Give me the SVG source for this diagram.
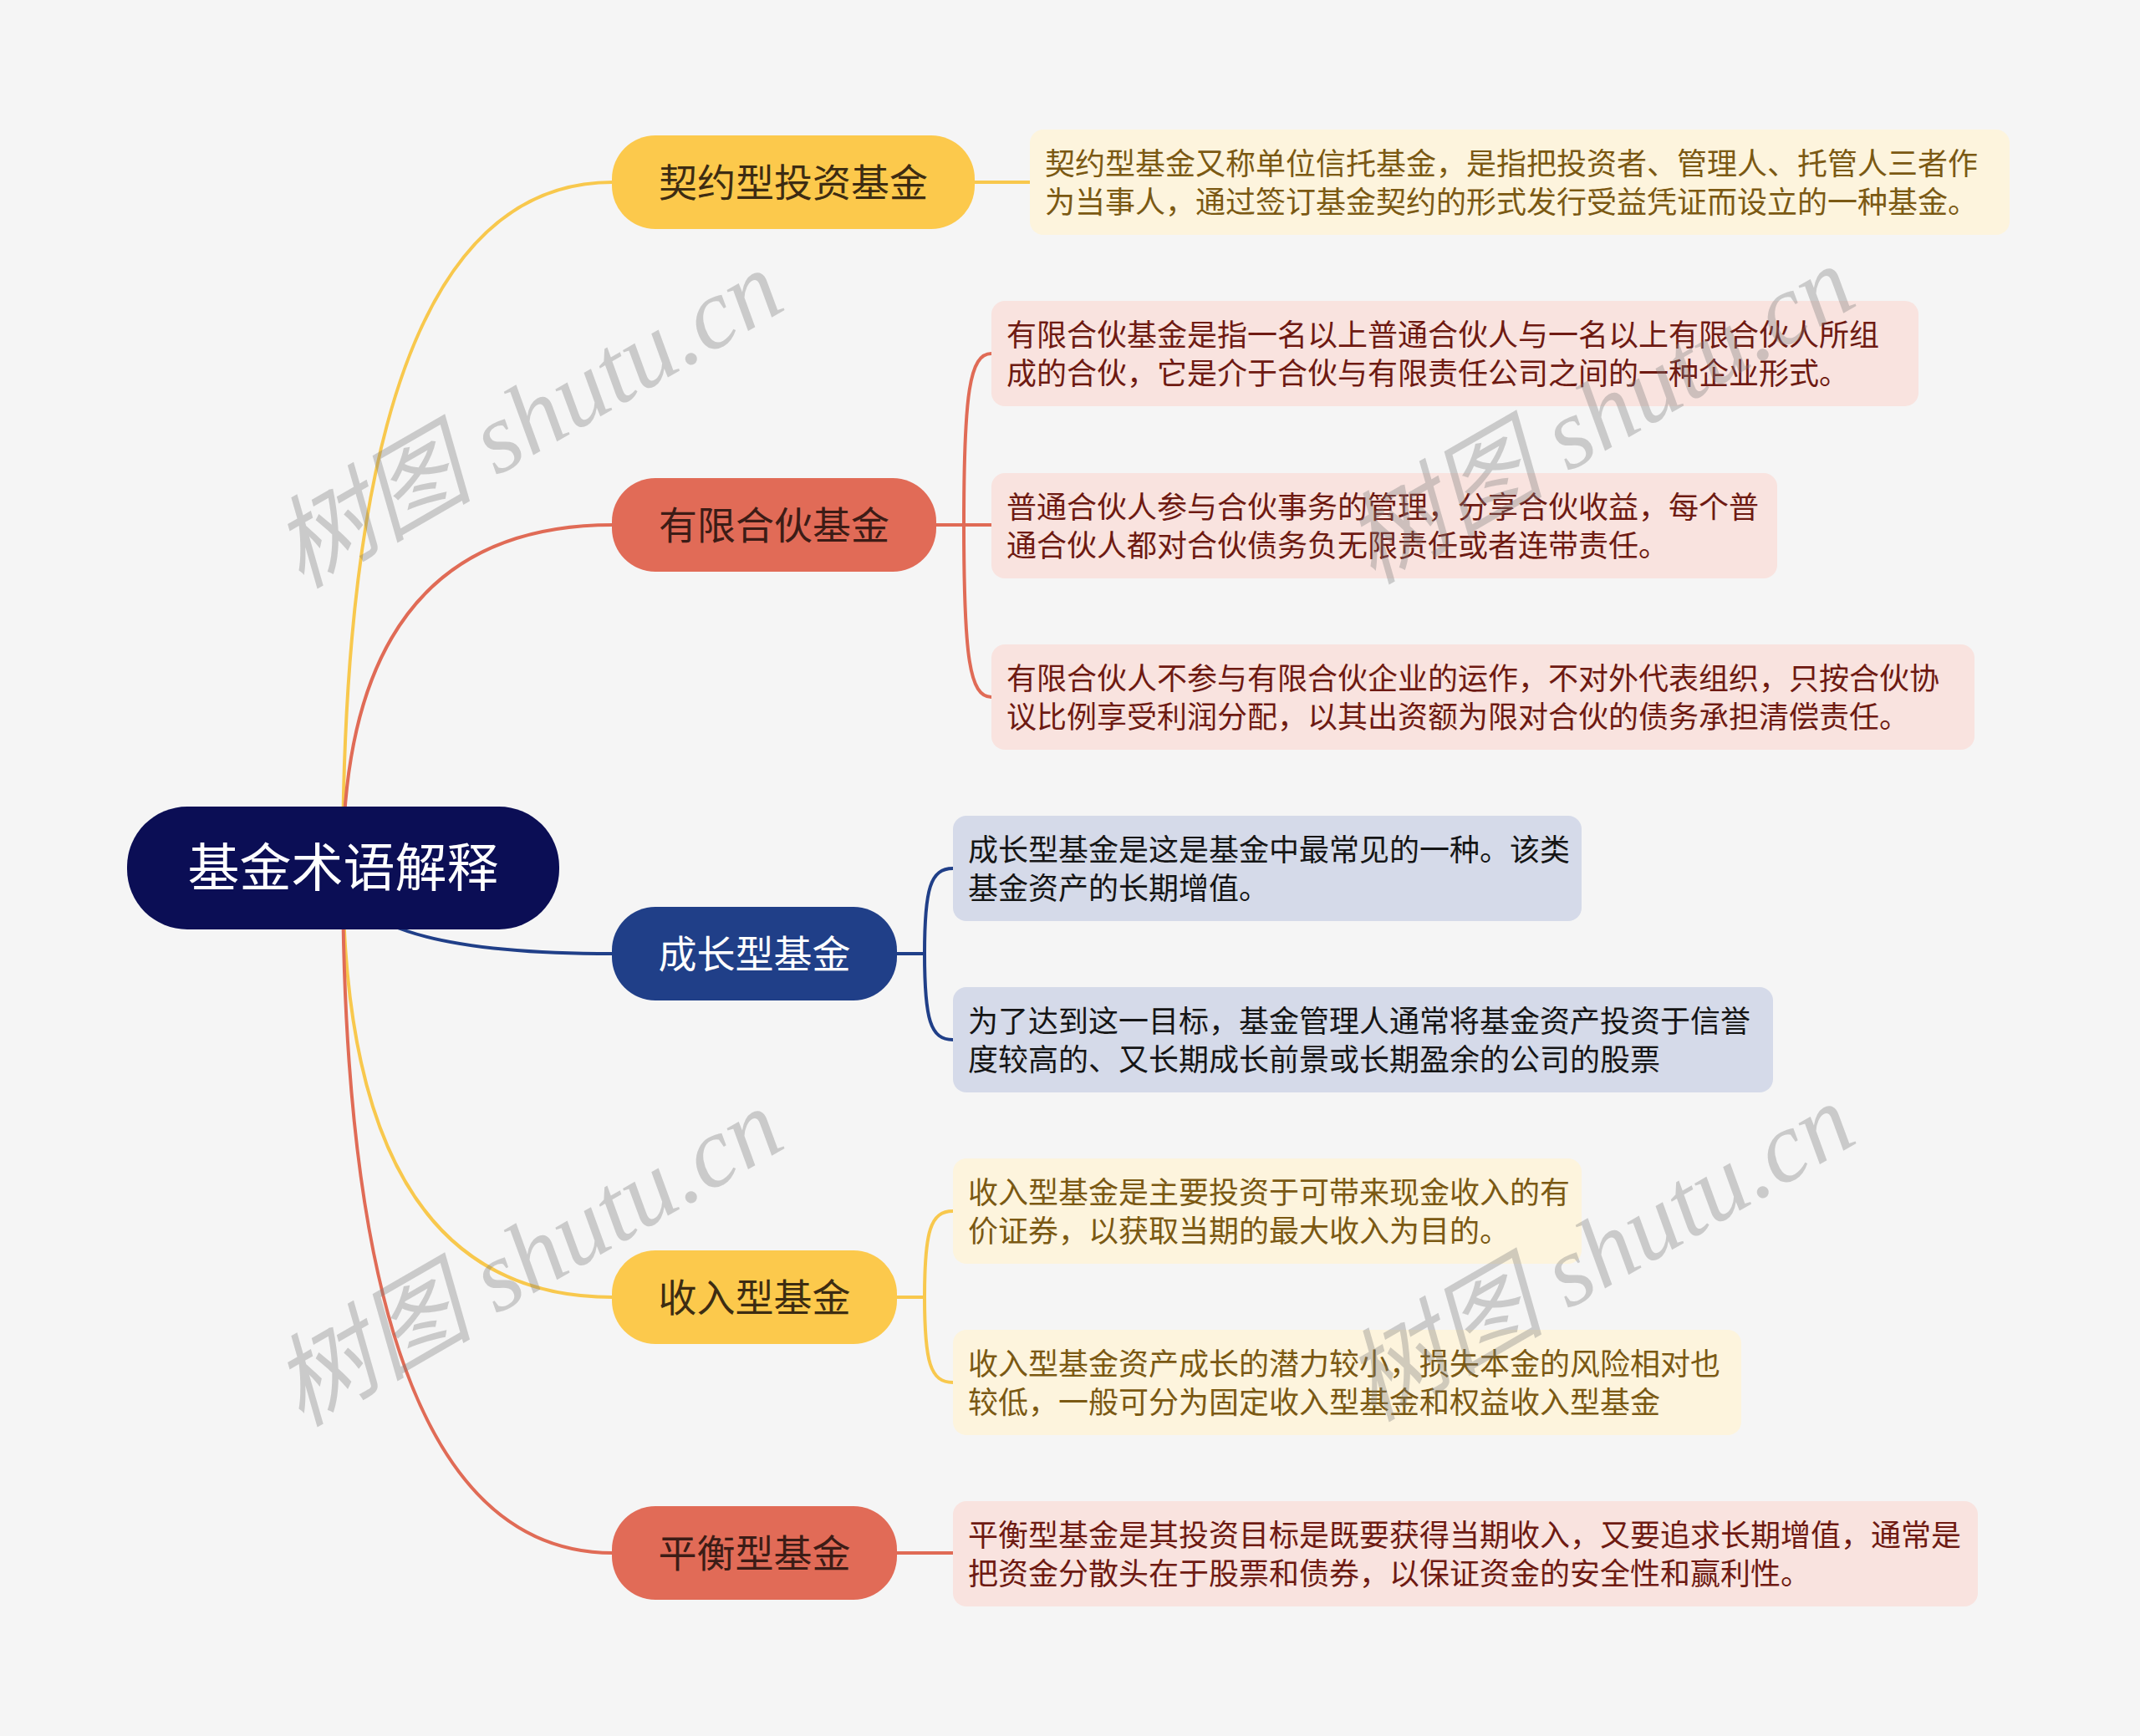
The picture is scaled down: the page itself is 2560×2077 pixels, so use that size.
<svg xmlns="http://www.w3.org/2000/svg" width="2560" height="2077" viewBox="0 0 2560 2077">
<defs>
<style>
.t{font-family:"Noto Sans CJK SC","Noto Sans",sans-serif;}
.root{fill:#0b0e55;}
.rootT{fill:#ffffff;font-size:62px;}
.nT{font-size:46px;}
.dT{font-size:36px;}
.ny{fill:#fcc94c;}
.nr{fill:#e16b57;}
.nb{fill:#203f88;}
.by{fill:#fdf4dd;}
.br{fill:#f9e3df;}
.bb{fill:#d5dae9;}
.tyN{fill:#3d2c12;}
.trN{fill:#3c1c16;}
.tbN{fill:#ffffff;}
.ty{fill:#7b5913;}
.tr{fill:#6e1a12;}
.tb{fill:#151515;}
.c{fill:none;stroke-width:4;stroke-linecap:round;}
.cy{stroke:#f8c84d;}
.cr{stroke:#e06b56;}
.cb{stroke:#203f88;}
.wm{font-family:"Liberation Serif","Noto Sans CJK SC",serif;font-style:italic;font-size:120px;fill:#7a7a7a;fill-opacity:0.35;}
</style>
</defs>
<rect width="2560" height="2077" fill="#f5f5f5"/>

<g id="connectors">
<path class="c cy" d="M 410 1038 Q 410 218 733 218"/>
<path class="c cr" d="M 410 1038 Q 410 628 733 628"/>
<path class="c cb" d="M 410 1038 Q 410 1141 733 1141"/>
<path class="c cy" d="M 410 1038 Q 410 1552 733 1552"/>
<path class="c cr" d="M 410 1038 Q 410 1858 733 1858"/>

<path class="c cy" d="M 1166 218 L 1232 218"/>

<path class="c cr" d="M 1120 628 L 1186 628"/>
<path class="c cr" d="M 1153 628 C 1153 470 1160 423 1186 423"/>
<path class="c cr" d="M 1153 628 C 1153 787 1160 834 1186 834"/>

<path class="c cb" d="M 1073 1141 L 1106 1141"/>
<path class="c cb" d="M 1106 1141 C 1106 1063 1113 1039 1140 1039"/>
<path class="c cb" d="M 1106 1141 C 1106 1220 1113 1244 1140 1244"/>

<path class="c cy" d="M 1073 1552 L 1106 1552"/>
<path class="c cy" d="M 1106 1552 C 1106 1473 1113 1449 1140 1449"/>
<path class="c cy" d="M 1106 1552 C 1106 1630 1113 1654 1140 1654"/>

<path class="c cr" d="M 1073 1858 L 1140 1858"/>
</g>

<g id="root">
<rect class="root" x="152" y="965" width="517" height="147" rx="72"/>
<text class="t rootT" x="410.5" y="1061" text-anchor="middle">基金术语解释</text>
</g>

<g id="n1">
<rect class="ny" x="732" y="162" width="434" height="112" rx="52"/>
<text class="t nT tyN" x="949" y="235" text-anchor="middle">契约型投资基金</text>
</g>
<g id="n2">
<rect class="nr" x="732" y="572" width="388" height="112" rx="52"/>
<text class="t nT trN" x="926" y="645" text-anchor="middle">有限合伙基金</text>
</g>
<g id="n3">
<rect class="nb" x="732" y="1085" width="341" height="112" rx="52"/>
<text class="t nT tbN" x="902.5" y="1158" text-anchor="middle">成长型基金</text>
</g>
<g id="n4">
<rect class="ny" x="732" y="1496" width="341" height="112" rx="52"/>
<text class="t nT tyN" x="902.5" y="1569" text-anchor="middle">收入型基金</text>
</g>
<g id="n5">
<rect class="nr" x="732" y="1802" width="341" height="112" rx="52"/>
<text class="t nT trN" x="902.5" y="1875" text-anchor="middle">平衡型基金</text>
</g>

<g id="d1">
<rect class="by" x="1232" y="155" width="1172" height="126" rx="16"/>
<text class="t dT ty" x="1250" y="208.5">契约型基金又称单位信托基金，是指把投资者、管理人、托管人三者作</text>
<text class="t dT ty" x="1250" y="254.5">为当事人，通过签订基金契约的形式发行受益凭证而设立的一种基金。</text>
</g>
<g id="d2">
<rect class="br" x="1186" y="360" width="1109" height="126" rx="16"/>
<text class="t dT tr" x="1204" y="413.5">有限合伙基金是指一名以上普通合伙人与一名以上有限合伙人所组</text>
<text class="t dT tr" x="1204" y="459.5">成的合伙，它是介于合伙与有限责任公司之间的一种企业形式。</text>
</g>
<g id="d3">
<rect class="br" x="1186" y="566" width="940" height="126" rx="16"/>
<text class="t dT tr" x="1204" y="619.5">普通合伙人参与合伙事务的管理，分享合伙收益，每个普</text>
<text class="t dT tr" x="1204" y="665.5">通合伙人都对合伙债务负无限责任或者连带责任。</text>
</g>
<g id="d4">
<rect class="br" x="1186" y="771" width="1176" height="126" rx="16"/>
<text class="t dT tr" x="1204" y="824.5">有限合伙人不参与有限合伙企业的运作，不对外代表组织，只按合伙协</text>
<text class="t dT tr" x="1204" y="870.5">议比例享受利润分配，以其出资额为限对合伙的债务承担清偿责任。</text>
</g>
<g id="d5">
<rect class="bb" x="1140" y="976" width="752" height="126" rx="16"/>
<text class="t dT tb" x="1158" y="1029.5">成长型基金是这是基金中最常见的一种。该类</text>
<text class="t dT tb" x="1158" y="1075.5">基金资产的长期增值。</text>
</g>
<g id="d6">
<rect class="bb" x="1140" y="1181" width="981" height="126" rx="16"/>
<text class="t dT tb" x="1158" y="1234.5">为了达到这一目标，基金管理人通常将基金资产投资于信誉</text>
<text class="t dT tb" x="1158" y="1280.5">度较高的、又长期成长前景或长期盈余的公司的股票</text>
</g>
<g id="d7">
<rect class="by" x="1140" y="1386" width="752" height="126" rx="16"/>
<text class="t dT ty" x="1158" y="1439.5">收入型基金是主要投资于可带来现金收入的有</text>
<text class="t dT ty" x="1158" y="1485.5">价证券，以获取当期的最大收入为目的。</text>
</g>
<g id="d8">
<rect class="by" x="1140" y="1591" width="943" height="126" rx="16"/>
<text class="t dT ty" x="1158" y="1644.5">收入型基金资产成长的潜力较小，损失本金的风险相对也</text>
<text class="t dT ty" x="1158" y="1690.5">较低，一般可分为固定收入型基金和权益收入型基金</text>
</g>
<g id="d9">
<rect class="br" x="1140" y="1796" width="1226" height="126" rx="16"/>
<text class="t dT tr" x="1158" y="1849.5">平衡型基金是其投资目标是既要获得当期收入，又要追求长期增值，通常是</text>
<text class="t dT tr" x="1158" y="1895.5">把资金分散头在于股票和债券，以保证资金的安全性和赢利性。</text>
</g>

<g id="watermarks">
<text class="wm" transform="translate(360 705) rotate(-30)">树图 shutu.cn</text>
<text class="wm" transform="translate(1642 700) rotate(-30)">树图 shutu.cn</text>
<text class="wm" transform="translate(360 1708) rotate(-30)">树图 shutu.cn</text>
<text class="wm" transform="translate(1642 1702) rotate(-30)">树图 shutu.cn</text>
</g>
</svg>
